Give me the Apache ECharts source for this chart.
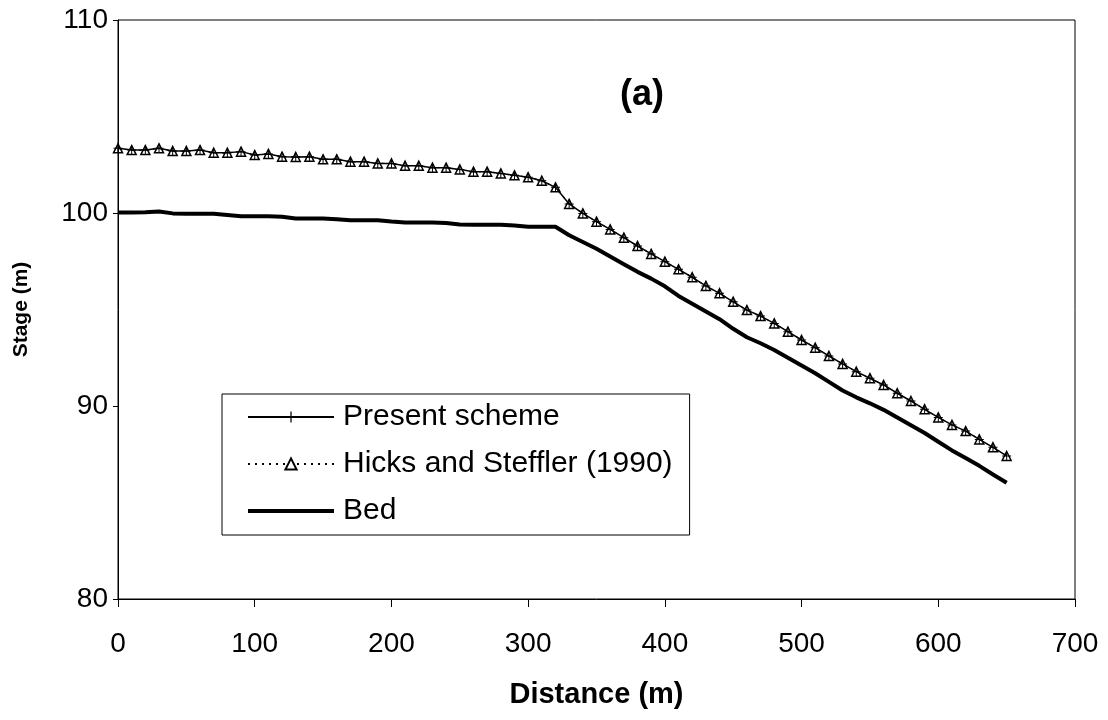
<!DOCTYPE html>
<html>
<head>
<meta charset="utf-8">
<script src="https://cdn.jsdelivr.net/npm/echarts@6/dist/echarts.min.js"></script>
<style>
  html, body { margin: 0; padding: 0; background: #fff; }
  #chart { width: 1108px; height: 720px; }
</style>
</head>
<body>
<div id="chart"></div>
<script>
// Distance along the channel (m)
const distance = [
  0, 10, 20, 30, 40, 50, 60, 70, 80, 90,
  100, 110, 120, 130, 140, 150, 160, 170, 180, 190,
  200, 210, 220, 230, 240, 250, 260, 270, 280, 290,
  300, 310, 320, 330, 340, 350, 360, 370, 380, 390,
  400, 410, 420, 430, 440, 450, 460, 470, 480, 490,
  500, 510, 520, 530, 540, 550, 560, 570, 580, 590,
  600, 610, 620, 630, 640, 650
];

// Water stage computed with the present scheme (m)
const presentStage = [
  103.35, 103.26, 103.26, 103.35, 103.21, 103.21, 103.26, 103.12, 103.12, 103.18,
  103.00, 103.06, 102.92, 102.90, 102.92, 102.78, 102.78, 102.66, 102.66, 102.57,
  102.57, 102.45, 102.45, 102.35, 102.35, 102.26, 102.14, 102.14, 102.05, 101.95,
  101.85, 101.67, 101.33, 100.47, 99.98, 99.55, 99.15, 98.72, 98.29, 97.88,
  97.48, 97.08, 96.67, 96.22, 95.84, 95.40, 94.97, 94.66, 94.28, 93.85,
  93.42, 93.02, 92.59, 92.18, 91.78, 91.44, 91.09, 90.66, 90.26, 89.83,
  89.41, 89.02, 88.70, 88.27, 87.86, 87.41
];

// Water stage from Hicks and Steffler (1990) (m)
const hicksStage = [
  103.35, 103.26, 103.26, 103.35, 103.21, 103.21, 103.26, 103.12, 103.12, 103.18,
  103.00, 103.06, 102.92, 102.90, 102.92, 102.78, 102.78, 102.66, 102.66, 102.57,
  102.57, 102.45, 102.45, 102.35, 102.35, 102.26, 102.14, 102.14, 102.05, 101.95,
  101.85, 101.67, 101.33, 100.47, 99.98, 99.55, 99.15, 98.72, 98.29, 97.88,
  97.48, 97.08, 96.67, 96.22, 95.84, 95.40, 94.97, 94.66, 94.28, 93.85,
  93.42, 93.02, 92.59, 92.18, 91.78, 91.44, 91.09, 90.66, 90.26, 89.83,
  89.41, 89.02, 88.70, 88.27, 87.86, 87.41
];

// Channel bed elevation (m)
const bedElevation = [
  100.02, 100.02, 100.04, 100.08, 99.98, 99.96, 99.96, 99.96, 99.90, 99.83,
  99.83, 99.83, 99.80, 99.72, 99.72, 99.72, 99.68, 99.62, 99.62, 99.62,
  99.56, 99.51, 99.51, 99.51, 99.48, 99.41, 99.39, 99.39, 99.39, 99.35,
  99.29, 99.29, 99.29, 98.85, 98.50, 98.15, 97.75, 97.35, 96.95, 96.60,
  96.20, 95.70, 95.30, 94.90, 94.50, 94.00, 93.56, 93.25, 92.90, 92.50,
  92.10, 91.70, 91.25, 90.80, 90.45, 90.14, 89.80, 89.40, 89.00, 88.60,
  88.15, 87.70, 87.30, 86.90, 86.45, 86.02
];

const seriesNames = ['Present scheme', 'Hicks and Steffler (1990)', 'Bed'];
const xTicks = { min: 0, max: 700, step: 100 };
const yTicks = { min: 80, max: 110, step: 10 };

const pairs = (xs, ys) => xs.map((x, i) => [x, ys[i]]);

const FONT = "'Liberation Sans', Arial, sans-serif";
const plusPath = 'path://M4,0 L5,0 L5,4 L9,4 L9,5 L5,5 L5,9 L4,9 L4,5 L0,5 L0,4 L4,4 Z';

const chart = echarts.init(document.getElementById('chart'), null, { renderer: 'canvas' });

chart.setOption({
  backgroundColor: '#ffffff',
  animation: false,
  textStyle: { fontFamily: FONT, color: '#000' },
  title: {
    text: '(a)',
    left: 620,
    top: 77,
    padding: 0,
    textStyle: { fontFamily: FONT, fontSize: 36, fontWeight: 'bold', color: '#000' }
  },
  grid: {
    left: 118, right: 33, top: 20, bottom: 121,
    show: true, borderColor: '#000', borderWidth: 1, backgroundColor: 'transparent'
  },
  legend: {
    data: [
      { name: seriesNames[0] },
      { name: seriesNames[1], itemStyle: { color: '#fff' } },
      { name: seriesNames[2], itemStyle: { opacity: 0 }, lineStyle: { width: 4 } }
    ],
    orient: 'vertical',
    left: 222,
    top: 394,
    padding: [8, 17, 9, 24],
    itemWidth: 86,
    itemHeight: 14,
    itemGap: 17,
    borderColor: '#000',
    borderWidth: 1,
    backgroundColor: '#fff',
    selectedMode: false,
    textStyle: {
      fontFamily: FONT, fontSize: 30, color: '#000',
      lineHeight: 30, padding: [0, 0, 0, 4]
    }
  },
  xAxis: {
    type: 'value',
    min: xTicks.min, max: xTicks.max, interval: xTicks.step,
    name: 'Distance (m)',
    nameLocation: 'middle',
    nameGap: 81,
    nameTextStyle: { fontFamily: FONT, fontSize: 29, fontWeight: 'bold', color: '#000' },
    axisLine: { lineStyle: { color: '#000', width: 1 } },
    axisTick: { show: true, inside: false, length: 8, lineStyle: { color: '#000' } },
    axisLabel: { fontFamily: FONT, fontSize: 28, color: '#000', margin: 31 },
    splitLine: { show: false }
  },
  yAxis: {
    type: 'value',
    min: yTicks.min, max: yTicks.max, interval: yTicks.step,
    name: 'Stage (m)',
    nameLocation: 'middle',
    nameGap: 86,
    nameRotate: 90,
    nameTextStyle: { fontFamily: FONT, fontSize: 21, fontWeight: 'bold', color: '#000' },
    axisLine: { show: true, lineStyle: { color: '#000', width: 1 } },
    axisTick: { show: true, inside: false, length: 5, lineStyle: { color: '#000' } },
    axisLabel: { fontFamily: FONT, fontSize: 28, color: '#000', margin: 10 },
    splitLine: { show: false }
  },
  series: [
    {
      name: 'Bed',
      type: 'line',
      data: pairs(distance, bedElevation),
      symbol: 'none',
      lineStyle: { color: '#000', width: 4 },
      itemStyle: { color: '#000' },
      z: 2
    },
    {
      name: 'Present scheme',
      type: 'line',
      data: pairs(distance, presentStage),
      symbol: plusPath,
      symbolSize: 9,
      showAllSymbol: true,
      lineStyle: { color: '#000', width: 1.5 },
      itemStyle: { color: '#000' },
      z: 3
    },
    {
      name: 'Hicks and Steffler (1990)',
      type: 'line',
      data: pairs(distance, hicksStage),
      symbol: 'triangle',
      symbolSize: 9,
      showAllSymbol: true,
      lineStyle: { color: '#000', width: 1.2, type: [2, 5] },
      itemStyle: { color: 'rgba(255,255,255,0)', borderColor: '#000', borderWidth: 1.5 },
      z: 4
    }
  ]
});
</script>
</body>
</html>
